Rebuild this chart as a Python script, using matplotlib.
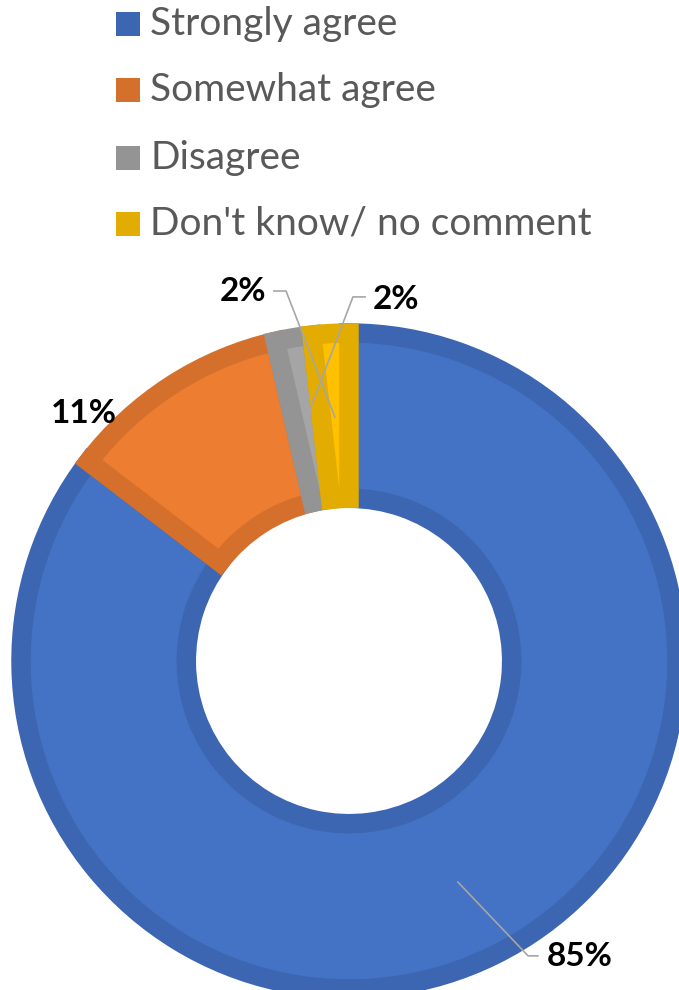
import matplotlib
matplotlib.use("Agg")
import matplotlib.pyplot as plt
from matplotlib.patches import Rectangle

categories = ["Strongly agree", "Somewhat agree", "Disagree", "Don't know/ no comment"]
values = [85.4, 11.0, 1.8, 1.8]
pct_labels = ["85%", "11%", "2%", "2%"]
face_colors = ["#4472C4", "#ED7D31", "#A5A5A5", "#FFC000"]
edge_colors = ["#3C66B2", "#D4702C", "#949494", "#E3AC00"]

W, H = 679, 990
fig = plt.figure(figsize=(W / 100, H / 100), dpi=100)
cx, cy, R = 349, 661, 328
ax = fig.add_axes([(cx - R) / W, (H - cy - R) / H, 2 * R / W, 2 * R / H])

wedges, _ = ax.pie(values, colors=face_colors, startangle=90, counterclock=False,
                   radius=1.0, wedgeprops=dict(width=0.504, linewidth=0))
ax.set_xlim(-1, 1)
ax.set_ylim(-1, 1)
ax.set_aspect("equal")
ax.axis("off")
for w, ec in zip(wedges, edge_colors):
    w.set_edgecolor(ec)
    w.set_linewidth(14)
    w.set_clip_path(w)

FONT = "Lato"
lab_pos = [(0.704, -0.902), (-0.808, 0.756), (-0.323, 1.128), (0.143, 1.101)]
leaders = [
    [(0.332, -0.674), (0.546, -0.899), (0.576, -0.899)],
    None,
    [(-0.229, 1.128), (-0.192, 1.128), (-0.043, 0.744)],
    [(0.049, 1.110), (0.012, 1.110), (-0.125, 0.750)],
]
for txt, (x, y), ld in zip(pct_labels, lab_pos, leaders):
    if ld:
        xs, ys = zip(*ld)
        ax.plot(xs, ys, color="#A6A6A6", lw=1.2, clip_on=False, zorder=5)
    ax.text(x, y, txt, ha="center", va="center", fontsize=24, fontweight="bold",
            color="black", family=FONT, clip_on=False, zorder=6)

# legend
row_y = [24, 90, 158, 224]
for cat, col, ry in zip(categories, edge_colors, row_y):
    fig.patches.append(Rectangle((116 / W, 1 - (ry + 12) / H), 24 / W, 24 / H,
                                 transform=fig.transFigure, facecolor=col, edgecolor="none"))
    fig.text(150 / W, 1 - ry / H, cat, ha="left", va="center", fontsize=28,
             color="#595959", family=FONT)

fig.savefig("out.png", dpi=100)
